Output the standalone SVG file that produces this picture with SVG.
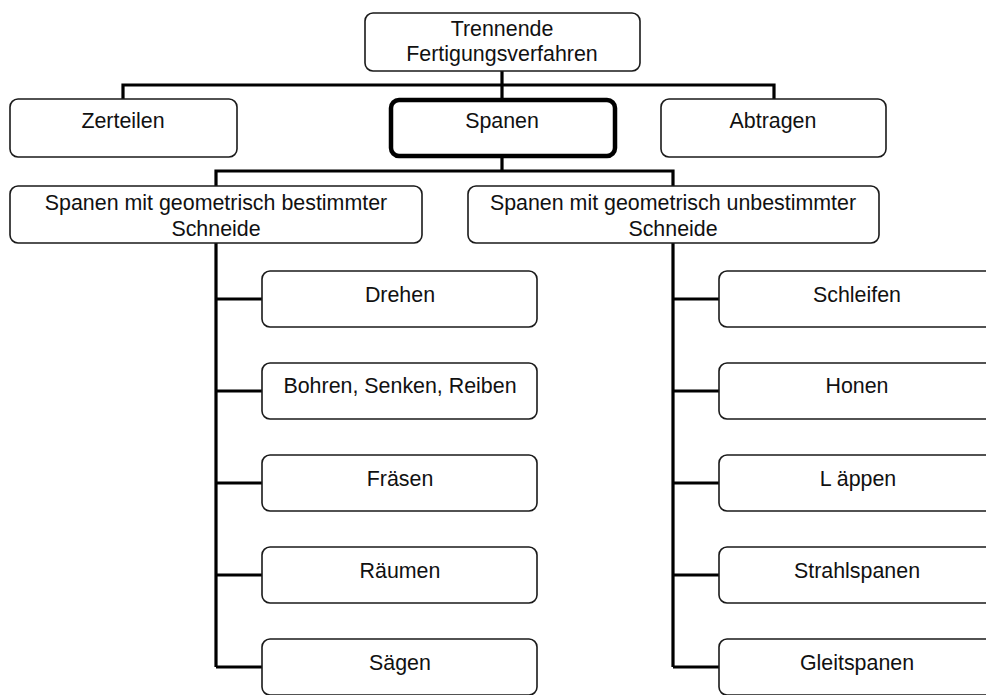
<svg xmlns="http://www.w3.org/2000/svg" width="986" height="695" viewBox="0 0 986 695">
<style>
.box{fill:#fff;stroke:#1a1a1a;stroke-width:1.6}
.thick{fill:#fff;stroke:#000;stroke-width:4.5}
.t{font-family:"Liberation Sans",Arial,sans-serif;font-size:21.4px;fill:#111;text-anchor:middle}
.c{fill:none;stroke:#000;stroke-width:3.2}
</style>
<rect width="986" height="695" fill="#fff"/>
<g id="connectors">
<path class="c" d="M502,71 V99 M123,99 V85 H774 V99"/>
<path class="c" d="M502,157 V171 M216,186 V171 H673 V186"/>
<path class="c" d="M216,243 V667 M216,299 H262 M216,391 H262 M216,483 H262 M216,575 H262 M216,667 H262"/>
<path class="c" d="M673,243 V667 M673,299 H719 M673,391 H719 M673,483 H719 M673,575 H719 M673,667 H719"/>
</g>
<g id="root"><rect class="box" x="365" y="13" width="275" height="58" rx="8"/><text class="t" x="502" y="36">Trennende</text><text class="t" x="502" y="61">Fertigungsverfahren</text></g>
<g id="zerteilen"><rect class="box" x="10" y="99" width="227" height="58" rx="8"/><text class="t" x="123" y="128">Zerteilen</text></g>
<g id="spanen"><rect class="thick" x="391" y="100" width="224" height="56" rx="8"/><text class="t" x="502" y="128">Spanen</text></g>
<g id="abtragen"><rect class="box" x="661" y="99" width="225" height="58" rx="8"/><text class="t" x="773" y="128">Abtragen</text></g>
<g id="bestimmt"><rect class="box" x="10" y="186" width="412" height="57" rx="8"/><text class="t" x="216" y="210">Spanen mit geometrisch bestimmter</text><text class="t" x="216" y="236">Schneide</text></g>
<g id="unbestimmt"><rect class="box" x="468" y="186" width="411" height="57" rx="8"/><text class="t" x="673" y="210">Spanen mit geometrisch unbestimmter</text><text class="t" x="673" y="236">Schneide</text></g>
<g id="drehen"><rect class="box" x="262" y="271" width="275" height="56" rx="8"/><text class="t" x="400" y="302">Drehen</text></g>
<g id="bohren"><rect class="box" x="262" y="363" width="275" height="56" rx="8"/><text class="t" x="400" y="393">Bohren, Senken, Reiben</text></g>
<g id="fraesen"><rect class="box" x="262" y="455" width="275" height="56" rx="8"/><text class="t" x="400" y="486">Fräsen</text></g>
<g id="raeumen"><rect class="box" x="262" y="547" width="275" height="56" rx="8"/><text class="t" x="400" y="578">Räumen</text></g>
<g id="saegen"><rect class="box" x="262" y="639" width="275" height="56" rx="8"/><text class="t" x="400" y="670">Sägen</text></g>
<g id="schleifen"><rect class="box" x="719" y="271" width="290" height="56" rx="8"/><text class="t" x="857" y="302">Schleifen</text></g>
<g id="honen"><rect class="box" x="719" y="363" width="290" height="56" rx="8"/><text class="t" x="857" y="393">Honen</text></g>
<g id="laeppen"><rect class="box" x="719" y="455" width="290" height="56" rx="8"/><text class="t" x="858" y="486">L äppen</text></g>
<g id="strahlspanen"><rect class="box" x="719" y="547" width="290" height="56" rx="8"/><text class="t" x="857" y="578">Strahlspanen</text></g>
<g id="gleitspanen"><rect class="box" x="719" y="639" width="290" height="56" rx="8"/><text class="t" x="857" y="670">Gleitspanen</text></g>
</svg>
